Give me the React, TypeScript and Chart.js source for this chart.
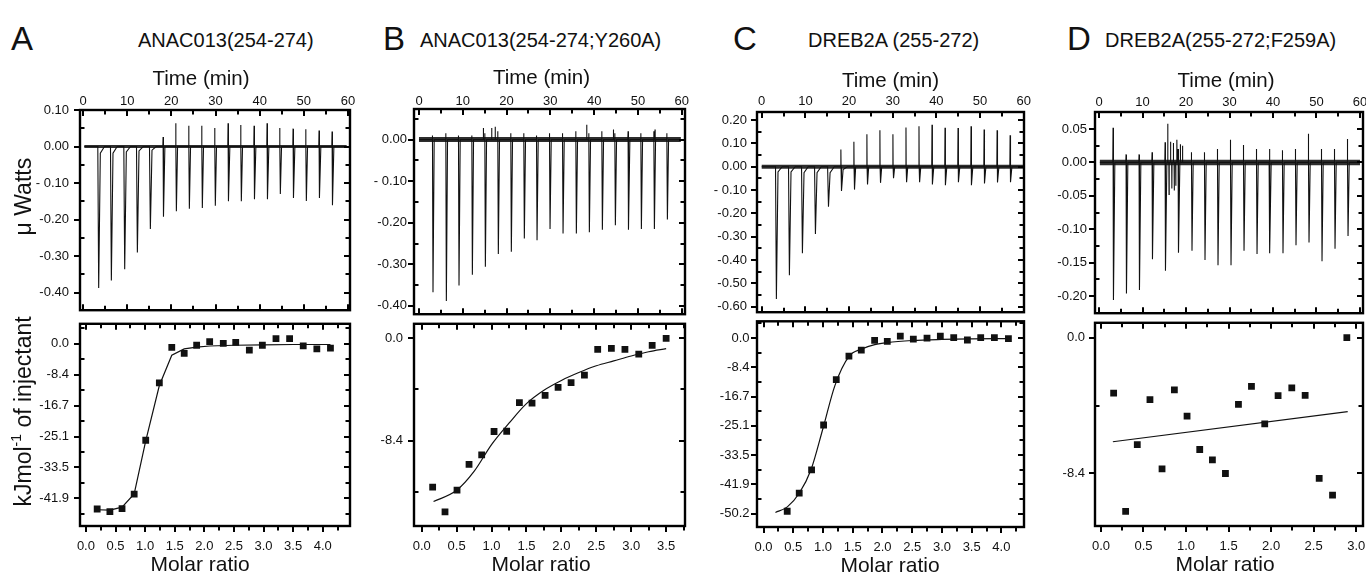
import React, { useEffect, useRef } from 'react';
import { Chart, registerables } from 'chart.js';

Chart.register(...registerables);

// ================= DATA =================
const TIME_TICKS = [0, 10, 20, 30, 40, 50, 60];
const TIME_LABELS = ['0', '10', '20', '30', '40', '50', '60'];
const TIME_MINOR = [5, 15, 25, 35, 45, 55];

const MR_TICKS_40 = [0, 0.5, 1.0, 1.5, 2.0, 2.5, 3.0, 3.5, 4.0];
const MR_LABELS_40 = ['0.0', '0.5', '1.0', '1.5', '2.0', '2.5', '3.0', '3.5', '4.0'];
const MR_MINOR_40 = [0.25, 0.75, 1.25, 1.75, 2.25, 2.75, 3.25, 3.75, 4.25];
const MR_TICKS_35 = [0, 0.5, 1.0, 1.5, 2.0, 2.5, 3.0, 3.5];
const MR_LABELS_35 = ['0.0', '0.5', '1.0', '1.5', '2.0', '2.5', '3.0', '3.5'];
const MR_MINOR_35 = [0.25, 0.75, 1.25, 1.75, 2.25, 2.75, 3.25, 3.75];
const MR_TICKS_30 = [0, 0.5, 1.0, 1.5, 2.0, 2.5, 3.0];
const MR_LABELS_30 = ['0.0', '0.5', '1.0', '1.5', '2.0', '2.5', '3.0'];
const MR_MINOR_30 = [0.25, 0.75, 1.25, 1.75, 2.25, 2.75];

// heat axis (kJ/mol, ticks at 2 kcal steps)
const HEAT_TICKS_6 = [0, -8.368, -16.736, -25.104, -33.472, -41.84];
const HEAT_LABELS_6 = ['0.0', '-8.4', '-16.7', '-25.1', '-33.5', '-41.9'];
const HEAT_TICKS_7 = [0, -8.368, -16.736, -25.104, -33.472, -41.84, -50.208];
const HEAT_LABELS_7 = ['0.0', '-8.4', '-16.7', '-25.1', '-33.5', '-41.9', '-50.2'];
const HEAT_MINOR_LONG = [4.184, -4.184, -12.552, -20.92, -29.288, -37.656, -46.024];
const HEAT_TICKS_2 = [0, -8.368];
const HEAT_LABELS_2 = ['0.0', '-8.4'];
const HEAT_MINOR_B = [-4.184, -12.552];
const HEAT_MINOR_D = [-4.184];

// power axis ticks
const A_PW_TICKS = [0.1, 0.0, -0.1, -0.2, -0.3, -0.4];
const A_PW_LABELS = ['0.10', '0.00', '- 0.10', '-0.20', '-0.30', '-0.40'];
const A_PW_MINOR = [0.05, -0.05, -0.15, -0.25, -0.35];
const B_PW_TICKS = [0.0, -0.1, -0.2, -0.3, -0.4];
const B_PW_LABELS = ['0.00', '- 0.10', '-0.20', '-0.30', '-0.40'];
const B_PW_MINOR = [0.05, -0.05, -0.15, -0.25, -0.35];
const C_PW_TICKS = [0.2, 0.1, 0.0, -0.1, -0.2, -0.3, -0.4, -0.5, -0.6];
const C_PW_LABELS = ['0.20', '0.10', '0.00', '- 0.10', '-0.20', '-0.30', '-0.40', '-0.50', '-0.60'];
const C_PW_MINOR = [0.15, 0.05, -0.05, -0.15, -0.25, -0.35, -0.45, -0.55];
const D_PW_TICKS = [0.05, 0.0, -0.05, -0.1, -0.15, -0.2];
const D_PW_LABELS = ['0.05', '0.00', '-0.05', '-0.10', '-0.15', '-0.20'];
const D_PW_MINOR = [0.025, -0.025, -0.075, -0.125, -0.175];

// ---- Panel A: ANAC013(254-274)
const A_INJ_TIME = [3.47, 6.34, 9.36, 12.23, 15.17, 18.19, 21.06, 24.0, 26.94, 29.88, 32.9, 35.77, 38.79, 41.73, 44.6, 47.62, 50.49, 53.5, 56.45];
const A_PEAK_MIN = [-0.387, -0.367, -0.336, -0.29, -0.226, -0.192, -0.177, -0.17, -0.168, -0.162, -0.15, -0.15, -0.144, -0.144, -0.13, -0.141, -0.149, -0.141, -0.161];
const A_PEAK_MAX = [0, 0, 0, 0, 0, 0.026, 0.064, 0.057, 0.057, 0.051, 0.064, 0.059, 0.057, 0.064, 0.051, 0.049, 0.047, 0.044, 0.041];
const A_TAIL = [-0.018, -0.018, -0.015, -0.012, -0.01];
const A_NOISE_T: number[] = [];
const A_NOISE_V: number[] = [];
const A_MR = [0.19, 0.405, 0.61, 0.815, 1.01, 1.24, 1.45, 1.66, 1.87, 2.09, 2.32, 2.53, 2.76, 2.98, 3.21, 3.44, 3.67, 3.9, 4.13];
const A_HEAT = [-44.7, -45.4, -44.6, -40.7, -26.1, -10.6, -0.95, -2.6, -0.4, 0.6, 0.1, 0.4, -1.7, -0.4, 1.4, 1.4, -0.6, -1.4, -1.2];
const A_FIT_MR = [0.19, 0.405, 0.61, 0.815, 1.01, 1.24, 1.45, 1.66, 1.87, 2.09, 2.5, 3.0, 3.5, 4.13];
const A_FIT = [-44.9, -45.0, -44.2, -40.6, -26.3, -11.3, -3.1, -1.4, -0.9, -0.6, -0.4, -0.3, -0.2, -0.2];

// ---- Panel B: ANAC013(254-274;Y260A)
const B_INJ_TIME = [3.12, 6.17, 9.06, 12.11, 15.08, 18.04, 21.01, 23.98, 26.88, 29.85, 32.82, 35.86, 38.83, 41.8, 44.77, 47.81, 50.71, 53.68, 56.65];
const B_PEAK_MIN = [-0.367, -0.388, -0.351, -0.325, -0.306, -0.275, -0.27, -0.238, -0.242, -0.215, -0.226, -0.226, -0.223, -0.217, -0.206, -0.217, -0.215, -0.215, -0.192];
const B_PEAK_MAX = [0.01, 0.015, 0.01, 0.01, 0.015, 0.02, 0.015, 0.015, 0.01, 0.015, 0.015, 0.02, 0.015, 0.02, 0.015, 0.02, 0.015, 0.02, 0.015];
const B_TAIL: number[] = [];
const B_NOISE_T = [14.7, 16.6, 17.4, 38.3, 44.4, 53.9];
const B_NOISE_V = [0.028, 0.028, 0.031, 0.036, 0.024, 0.024];
const B_MR = [0.157, 0.334, 0.506, 0.678, 0.859, 1.036, 1.217, 1.399, 1.58, 1.767, 1.953, 2.139, 2.33, 2.52, 2.716, 2.91, 3.108, 3.3, 3.5];
const B_HEAT = [-12.18, -14.21, -12.44, -10.33, -9.54, -7.63, -7.61, -5.26, -5.31, -4.68, -4.01, -3.62, -3.01, -0.9, -0.82, -0.9, -1.29, -0.58, 0.0];
const B_FIT_MR = [0.17, 0.5, 0.75, 1.0, 1.25, 1.5, 1.75, 2.0, 2.25, 2.5, 2.75, 3.0, 3.25, 3.5];
const B_FIT = [-13.37, -12.45, -10.9, -8.7, -6.95, -5.35, -4.25, -3.45, -2.8, -2.25, -1.85, -1.45, -1.1, -0.85];

// ---- Panel C: DREB2A (255-272)
const C_INJ_TIME = [3.28, 6.26, 9.24, 12.22, 15.21, 18.19, 21.17, 24.15, 27.13, 30.11, 33.1, 36.08, 39.06, 42.04, 45.02, 48.0, 50.99, 53.97, 56.95];
const C_PEAK_MIN = [-0.567, -0.465, -0.371, -0.288, -0.171, -0.104, -0.098, -0.076, -0.069, -0.049, -0.066, -0.066, -0.076, -0.079, -0.066, -0.079, -0.072, -0.067, -0.066];
const C_PEAK_MAX = [0, 0, 0, 0, 0, 0.074, 0.107, 0.139, 0.157, 0.139, 0.168, 0.174, 0.18, 0.167, 0.166, 0.174, 0.16, 0.157, 0.135];
const C_TAIL = [-0.022, -0.022, -0.025, -0.025, -0.025, -0.012];
const C_NOISE_T: number[] = [];
const C_NOISE_V: number[] = [];
const C_MR = [0.398, 0.6, 0.808, 1.01, 1.223, 1.436, 1.644, 1.868, 2.081, 2.3, 2.519, 2.749, 2.973, 3.198, 3.428, 3.652, 3.882, 4.118];
const C_HEAT = [-49.55, -44.39, -37.73, -24.87, -11.92, -5.16, -3.47, -0.66, -0.94, 0.56, -0.28, 0.0, 0.56, 0.09, -0.56, 0.09, 0.09, -0.19];
const C_FIT_MR = [0.2, 0.4, 0.6, 0.8, 1.0, 1.2, 1.44, 1.64, 1.87, 2.08, 2.5, 3.0, 3.5, 4.12];
const C_FIT = [-49.9, -48.3, -44.4, -37.6, -25.8, -13.6, -5.2, -3.2, -1.9, -1.3, -0.7, -0.4, -0.25, -0.15];

// ---- Panel D: DREB2A(255-272;F259A)
const D_INJ_TIME = [3.29, 6.28, 9.27, 12.26, 15.25, 18.24, 21.3, 24.29, 27.28, 30.27, 33.26, 36.25, 39.23, 42.22, 45.21, 48.2, 51.19, 54.18, 57.17];
const D_PEAK_MIN = [-0.206, -0.196, -0.191, -0.145, -0.162, -0.135, -0.132, -0.146, -0.154, -0.154, -0.132, -0.137, -0.136, -0.136, -0.124, -0.12, -0.148, -0.129, -0.11];
const D_PEAK_MAX = [0.052, 0.012, 0.012, 0.015, 0.03, 0.02, 0.015, 0.015, 0.02, 0.034, 0.026, 0.02, 0.02, 0.018, 0.02, 0.043, 0.02, 0.02, 0.035];
const D_TAIL: number[] = [];
const D_NOISE_T = [15.8, 16.1, 16.45, 16.75, 17.1, 17.3, 17.65, 17.9, 18.7, 19.2];
const D_NOISE_V = [0.058, -0.048, 0.031, -0.039, 0.029, -0.042, -0.035, 0.034, 0.027, 0.025];
const D_MR = [0.149, 0.29, 0.427, 0.576, 0.718, 0.863, 1.012, 1.161, 1.31, 1.463, 1.616, 1.769, 1.925, 2.082, 2.243, 2.4, 2.565, 2.722, 2.89];
const D_HEAT = [-3.42, -10.72, -6.6, -3.82, -8.1, -3.22, -4.84, -6.9, -7.54, -8.38, -4.12, -3.0, -5.32, -3.58, -3.1, -3.56, -8.68, -9.72, 0.0];
const D_FIT_MR = [0.14, 2.9];
const D_FIT = [-6.42, -4.56];

// ================= LAYOUT / STYLE =================
const FONT = "'Liberation Sans', Arial, Helvetica, sans-serif";
const INK = '#111111';
const AX_L = 80; // y-axis box width
const AX_T = 60; // top time axis height
const AX_B = 58; // bottom molar-ratio axis height
const PAD = 12;
const PAD_R = 20;

type Frame = { L: number; R: number; T: number; M: number; B: number };
type Title = { anchor: 'top' | 'bottom' | 'left'; off: number; dx?: number; dy?: number; size: number; parts: { s: string; sup?: boolean }[] };
type FrameSpec = { bottomOut: boolean; xMajor: number[]; xMinor: number[]; yMajor: number[]; yMinor: number[]; titles: Title[] };

function makeFramePlugin(spec: FrameSpec) {
  return {
    id: 'itcFrame',
    afterDraw(chart: any) {
      const { ctx, chartArea: a, scales } = chart;
      const xs = scales.x;
      const ys = scales.y;
      ctx.save();
      ctx.strokeStyle = '#000';
      ctx.lineWidth = 2;
      ctx.lineCap = 'butt';
      const line = (x1: number, y1: number, x2: number, y2: number) => {
        ctx.beginPath();
        ctx.moveTo(x1, y1);
        ctx.lineTo(x2, y2);
        ctx.stroke();
      };
      const MJ = 6;
      const MN = 4.5;
      const xTick = (v: number, len: number) => {
        if (v < xs.min || v > xs.max) return;
        const px = Math.round(xs.getPixelForValue(v));
        line(px, a.top, px, a.top + len);
        if (spec.bottomOut) line(px, a.bottom, px, a.bottom + len);
        else line(px, a.bottom, px, a.bottom - len);
      };
      spec.xMajor.forEach((v) => xTick(v, MJ));
      spec.xMinor.forEach((v) => xTick(v, MN));
      spec.yMajor.forEach((v) => {
        if (v < ys.min || v > ys.max) return;
        const py = Math.round(ys.getPixelForValue(v));
        line(a.left - MJ, py, a.left, py);
        line(a.right - MJ, py, a.right, py);
      });
      spec.yMinor.forEach((v) => {
        if (v < ys.min || v > ys.max) return;
        const py = Math.round(ys.getPixelForValue(v));
        line(a.left, py, a.left + MN, py);
        line(a.right - MN, py, a.right, py);
      });
      ctx.lineWidth = 2.4;
      ctx.strokeRect(a.left, a.top, a.right - a.left, a.bottom - a.top);

      ctx.fillStyle = INK;
      spec.titles.forEach((t) => {
        ctx.save();
        let x = (a.left + a.right) / 2 + (t.dx || 0);
        let y = (a.top + a.bottom) / 2 + (t.dy || 0);
        if (t.anchor === 'top') y = a.top - t.off;
        if (t.anchor === 'bottom') y = a.bottom + t.off;
        if (t.anchor === 'left') x = a.left - t.off;
        ctx.translate(x, y);
        if (t.anchor === 'left') ctx.rotate(-Math.PI / 2);
        ctx.textBaseline = 'middle';
        ctx.textAlign = 'left';
        const big = `${t.size}px ${FONT}`;
        const small = `${Math.round(t.size * 0.6)}px ${FONT}`;
        let total = 0;
        t.parts.forEach((p) => {
          ctx.font = p.sup ? small : big;
          total += ctx.measureText(p.s).width;
        });
        let px = -total / 2;
        t.parts.forEach((p) => {
          ctx.font = p.sup ? small : big;
          ctx.fillText(p.s, px, p.sup ? -t.size * 0.32 : 0);
          px += ctx.measureText(p.s).width;
        });
        ctx.restore();
      });
      ctx.restore();
    },
  };
}

function buildTrace(
  t0: number,
  t1: number,
  times: number[],
  mins: number[],
  maxs: number[],
  tails: number[],
  noiseT: number[],
  noiseV: number[]
) {
  const segs: { x: number; y: number }[][] = [];
  times.forEach((t, i) => {
    const s = [{ x: t - 0.12, y: 0 }];
    if ((maxs[i] || 0) > 0) {
      s.push({ x: t - 0.06, y: maxs[i] });
      s.push({ x: t - 0.02, y: 0 });
    }
    s.push({ x: t + 0.08, y: mins[i] });
    const tl = tails[i] || 0;
    if (tl < 0) {
      s.push({ x: t + 0.45, y: tl });
      s.push({ x: t + 1.4, y: 0 });
    } else {
      s.push({ x: t + 0.35, y: 0 });
    }
    segs.push(s);
  });
  noiseT.forEach((t, i) =>
    segs.push([
      { x: t - 0.04, y: 0 },
      { x: t, y: noiseV[i] },
      { x: t + 0.04, y: 0 },
    ])
  );
  segs.sort((p, q) => p[0].x - q[0].x);
  const out: { x: number; y: number }[] = [{ x: t0, y: 0 }];
  segs.forEach((s) => out.push(...s));
  out.push({ x: t1, y: 0 });
  return out;
}

const pts = (xs: number[], ys: number[]) => xs.map((x, i) => ({ x, y: ys[i] }));

const tickFont = { family: FONT, size: 13 };

function fixedTicks(values: number[]) {
  return (scale: any) => {
    scale.ticks = values.map((value) => ({ value }));
  };
}

interface TopSpec {
  xMin: number; xMax: number; yMin: number; yMax: number;
  yTicks: number[]; yLabels: string[]; yMinor: number[];
  trace: { x: number; y: number }[];
  t0: number; t1: number; band: number;
  xPad: number; yPad: number; titleDx: number; yTitle?: boolean;
}

function topConfig(s: TopSpec): any {
  const titles: Title[] = [
    { anchor: 'top', off: 30.5, dx: s.titleDx, size: 20.5, parts: [{ s: 'Time (min)' }] },
  ];
  if (s.yTitle) titles.push({ anchor: 'left', off: 55, dy: -13.5, size: 23, parts: [{ s: 'μ Watts' }] });
  return {
    type: 'line',
    data: {
      datasets: [
        {
          data: s.trace,
          borderColor: INK,
          borderWidth: 1.1,
          pointRadius: 0,
          tension: 0,
        },
        {
          data: [{ x: s.t0, y: 0 }, { x: s.t1, y: 0 }],
          borderColor: 'rgba(17,17,17,0.88)',
          borderWidth: s.band,
          borderCapStyle: 'butt',
          pointRadius: 0,
        },
      ],
    },
    plugins: [
      makeFramePlugin({ bottomOut: false, xMajor: TIME_TICKS, xMinor: TIME_MINOR, yMajor: s.yTicks, yMinor: s.yMinor, titles }),
    ],
    options: {
      animation: false,
      responsive: false,
      maintainAspectRatio: false,
      events: [],
      layout: { padding: { left: 0, top: 0, right: PAD_R, bottom: PAD } },
      plugins: {
        legend: { display: false },
        tooltip: { enabled: false },
      },
      scales: {
        x: {
          type: 'linear',
          position: 'top',
          min: s.xMin,
          max: s.xMax,
          afterBuildTicks: fixedTicks(TIME_TICKS),
          afterFit: (sc: any) => { sc.height = AX_T; },
          ticks: {
            autoSkip: false, maxRotation: 0, padding: s.xPad, font: tickFont, color: INK,
            callback: (_v: any, i: number) => TIME_LABELS[i],
          },
          grid: { display: false, drawTicks: false },
          border: { display: false },
        },
        y: {
          type: 'linear',
          min: s.yMin,
          max: s.yMax,
          afterBuildTicks: fixedTicks(s.yTicks),
          afterFit: (sc: any) => { sc.width = AX_L; },
          ticks: {
            autoSkip: false, padding: s.yPad, font: tickFont, color: INK,
            callback: (_v: any, i: number) => s.yLabels[i],
          },
          grid: { display: false, drawTicks: false },
          border: { display: false },
        },
      },
    },
  };
}

interface BotSpec {
  xMin: number; xMax: number; yMin: number; yMax: number;
  xTicks: number[]; xLabels: string[]; xMinor: number[];
  yTicks: number[]; yLabels: string[]; yMinor: number[];
  points: { x: number; y: number }[];
  fit: { x: number; y: number }[];
  smooth: boolean;
  yPad: number; titleDx: number; yTitle?: boolean;
}

function botConfig(s: BotSpec): any {
  const titles: Title[] = [
    { anchor: 'bottom', off: 39, dx: s.titleDx, size: 21, parts: [{ s: 'Molar ratio' }] },
  ];
  if (s.yTitle)
    titles.push({
      anchor: 'left', off: 55, dy: -13.5, size: 23,
      parts: [{ s: 'kJmol' }, { s: '-1', sup: true }, { s: ' of injectant' }],
    });
  return {
    type: 'scatter',
    data: {
      datasets: [
        {
          data: s.points,
          pointStyle: 'rect',
          pointRadius: 4.8,
          pointBackgroundColor: INK,
          pointBorderWidth: 0,
          showLine: false,
        },
        {
          data: s.fit,
          showLine: true,
          borderColor: INK,
          borderWidth: 1.2,
          pointRadius: 0,
          cubicInterpolationMode: s.smooth ? 'monotone' : 'default',
          tension: s.smooth ? 0.4 : 0,
        },
      ],
    },
    plugins: [
      makeFramePlugin({ bottomOut: true, xMajor: s.xTicks, xMinor: s.xMinor, yMajor: s.yTicks, yMinor: s.yMinor, titles }),
    ],
    options: {
      animation: false,
      responsive: false,
      maintainAspectRatio: false,
      events: [],
      layout: { padding: { left: 0, top: PAD, right: PAD_R, bottom: 0 } },
      plugins: {
        legend: { display: false },
        tooltip: { enabled: false },
      },
      scales: {
        x: {
          type: 'linear',
          position: 'bottom',
          min: s.xMin,
          max: s.xMax,
          afterBuildTicks: fixedTicks(s.xTicks),
          afterFit: (sc: any) => { sc.height = AX_B; },
          ticks: {
            autoSkip: false, maxRotation: 0, padding: 13, font: tickFont, color: INK,
            callback: (_v: any, i: number) => s.xLabels[i],
          },
          grid: { display: false, drawTicks: false },
          border: { display: false },
        },
        y: {
          type: 'linear',
          min: s.yMin,
          max: s.yMax,
          afterBuildTicks: fixedTicks(s.yTicks),
          afterFit: (sc: any) => { sc.width = AX_L; },
          ticks: {
            autoSkip: false, padding: s.yPad, font: tickFont, color: INK,
            callback: (_v: any, i: number) => s.yLabels[i],
          },
          grid: { display: false, drawTicks: false },
          border: { display: false },
        },
      },
    },
  };
}

function ChartCanvas({ left, top, width, height, config }: { left: number; top: number; width: number; height: number; config: any }) {
  const ref = useRef<HTMLCanvasElement | null>(null);
  useEffect(() => {
    if (!ref.current) return;
    const chart = new Chart(ref.current, config);
    return () => chart.destroy();
  }, []);
  return (
    <canvas
      ref={ref}
      width={width}
      height={height}
      style={{ position: 'absolute', left, top, width, height }}
    />
  );
}

function Panel({ f, top, bot }: { f: Frame; top: any; bot: any }) {
  const w = f.R - f.L + AX_L + PAD_R;
  return (
    <>
      <ChartCanvas left={f.L - AX_L} top={f.T - AX_T} width={w} height={f.M - f.T + AX_T + PAD} config={top} />
      <ChartCanvas left={f.L - AX_L} top={f.M - PAD} width={w} height={f.B - f.M + PAD + AX_B} config={bot} />
    </>
  );
}

const FA: Frame = { L: 80, R: 350, T: 110, M: 317, B: 526 };
const FB: Frame = { L: 414, R: 685, T: 109, M: 317, B: 526 };
const FC: Frame = { L: 757, R: 1024, T: 112, M: 318, B: 527 };
const FD: Frame = { L: 1095, R: 1363, T: 112, M: 317, B: 526 };

const topA = topConfig({
  xMin: -0.68, xMax: 60.45, yMin: -0.448, yMax: 0.1,
  yTicks: A_PW_TICKS, yLabels: A_PW_LABELS, yMinor: A_PW_MINOR,
  trace: buildTrace(0.3, 59.7, A_INJ_TIME, A_PEAK_MIN, A_PEAK_MAX, A_TAIL, A_NOISE_T, A_NOISE_V),
  t0: 0.3, t1: 59.7, band: 3, xPad: 1, yPad: 11, titleDx: -14, yTitle: true,
});
const botA = botConfig({
  xMin: -0.1, xMax: 4.46, yMin: -49.3, yMax: 5.4,
  xTicks: MR_TICKS_40, xLabels: MR_LABELS_40, xMinor: MR_MINOR_40,
  yTicks: HEAT_TICKS_6, yLabels: HEAT_LABELS_6, yMinor: HEAT_MINOR_LONG,
  points: pts(A_MR, A_HEAT), fit: pts(A_FIT_MR, A_FIT), smooth: false,
  yPad: 11, titleDx: -15, yTitle: true,
});
const topB = topConfig({
  xMin: -1.14, xMax: 60.75, yMin: -0.42, yMax: 0.0736,
  yTicks: B_PW_TICKS, yLabels: B_PW_LABELS, yMinor: B_PW_MINOR,
  trace: buildTrace(0.0, 59.8, B_INJ_TIME, B_PEAK_MIN, B_PEAK_MAX, B_TAIL, B_NOISE_T, B_NOISE_V),
  t0: 0.0, t1: 59.8, band: 5, xPad: 0, yPad: 7, titleDx: -8,
});
const botB = botConfig({
  xMin: -0.11, xMax: 3.77, yMin: -15.37, yMax: 1.19,
  xTicks: MR_TICKS_35, xLabels: MR_LABELS_35, xMinor: MR_MINOR_35,
  yTicks: HEAT_TICKS_2, yLabels: HEAT_LABELS_2, yMinor: HEAT_MINOR_B,
  points: pts(B_MR, B_HEAT), fit: pts(B_FIT_MR, B_FIT), smooth: true,
  yPad: 11, titleDx: -8.5,
});
const topC = topConfig({
  xMin: -1.08, xMax: 60.07, yMin: -0.624, yMax: 0.235,
  yTicks: C_PW_TICKS, yLabels: C_PW_LABELS, yMinor: C_PW_MINOR,
  trace: buildTrace(0.0, 60.0, C_INJ_TIME, C_PEAK_MIN, C_PEAK_MAX, C_TAIL, C_NOISE_T, C_NOISE_V),
  t0: 0.0, t1: 60.0, band: 4, xPad: 2.5, yPad: 10, titleDx: 0,
});
const botC = botConfig({
  xMin: -0.11, xMax: 4.38, yMin: -54.05, yMax: 4.79,
  xTicks: MR_TICKS_40, xLabels: MR_LABELS_40, xMinor: MR_MINOR_40,
  yTicks: HEAT_TICKS_7, yLabels: HEAT_LABELS_7, yMinor: HEAT_MINOR_LONG,
  points: pts(C_MR, C_HEAT), fit: pts(C_FIT_MR, C_FIT), smooth: true,
  yPad: 7.5, titleDx: -0.5,
});
const topD = topConfig({
  xMin: -0.92, xMax: 60.69, yMin: -0.2256, yMax: 0.0754,
  yTicks: D_PW_TICKS, yLabels: D_PW_LABELS, yMinor: D_PW_MINOR,
  trace: buildTrace(0.2, 60.0, D_INJ_TIME, D_PEAK_MIN, D_PEAK_MAX, D_TAIL, D_NOISE_T, D_NOISE_V),
  t0: 0.2, t1: 60.0, band: 5.5, xPad: 2, yPad: 8, titleDx: -3,
});
const botD = botConfig({
  xMin: -0.07, xMax: 3.08, yMin: -11.62, yMax: 0.92,
  xTicks: MR_TICKS_30, xLabels: MR_LABELS_30, xMinor: MR_MINOR_30,
  yTicks: HEAT_TICKS_2, yLabels: HEAT_LABELS_2, yMinor: HEAT_MINOR_D,
  points: pts(D_MR, D_HEAT), fit: pts(D_FIT_MR, D_FIT), smooth: false,
  yPad: 10, titleDx: -4,
});

const letterStyle = (left: number): React.CSSProperties => ({
  position: 'absolute', left, top: 21.7, fontFamily: FONT, fontSize: 33, lineHeight: '33px', color: INK, whiteSpace: 'nowrap',
});
const titleStyle = (left: number): React.CSSProperties => ({
  position: 'absolute', left, top: 30.1, fontFamily: FONT, fontSize: 20, lineHeight: '20px', color: INK, whiteSpace: 'nowrap',
});

export default function App() {
  return (
    <div style={{ position: 'fixed', left: 0, top: 0, width: 1366, height: 574, background: '#fff', overflow: 'hidden' }}>
      <div style={letterStyle(11)}>A</div>
      <div style={titleStyle(138)}>ANAC013(254-274)</div>
      <div style={letterStyle(383)}>B</div>
      <div style={titleStyle(420)}>ANAC013(254-274;Y260A)</div>
      <div style={letterStyle(733)}>C</div>
      <div style={titleStyle(808)}>DREB2A (255-272)</div>
      <div style={letterStyle(1067)}>D</div>
      <div style={titleStyle(1105)}>DREB2A(255-272;F259A)</div>
      <Panel f={FA} top={topA} bot={botA} />
      <Panel f={FB} top={topB} bot={botB} />
      <Panel f={FC} top={topC} bot={botC} />
      <Panel f={FD} top={topD} bot={botD} />
    </div>
  );
}
